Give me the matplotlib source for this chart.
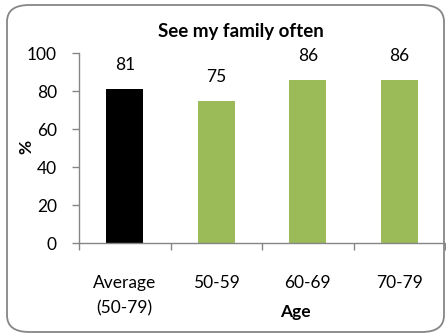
import matplotlib
matplotlib.use("Agg")
import matplotlib.pyplot as plt
from matplotlib.patches import FancyBboxPatch
import numpy as np

categories = ["Average\n(50-79)", "50-59", "60-69", "70-79"]
values = [81, 75, 86, 86]
colors = ["#000000", "#9BBB59", "#9BBB59", "#9BBB59"]
title = "See my family often"
yticks = [0, 20, 40, 60, 80, 100]

plt.rcParams['font.family'] = ['Lato', 'DejaVu Sans']
W, H = 446, 334
fig = plt.figure(figsize=(W/100, H/100), dpi=100)

frame = FancyBboxPatch((7/W, 2/H), (444-7)/W, (329-2)/H,
                       boxstyle="round,pad=0,rounding_size=0.05",
                       transform=fig.transFigure, facecolor="white",
                       edgecolor="#868686", linewidth=1.3, zorder=-10)
fig.patches.append(frame)

FS = 12.5
ax = fig.add_axes([79/W, 1-243/H, (445-79)/W, (243-53)/H])
ax.set_zorder(1)
ax.patch.set_alpha(0)
x = np.arange(len(categories))
bars = ax.bar(x, values, width=0.4, color=colors, zorder=2)
for xi, v in zip(x, values):
    ax.annotate(str(v), (xi, v), xytext=(0, 17), textcoords="offset points",
                ha="center", va="center", fontsize=FS)

ax.set_xlim(-0.5, len(categories)-0.5)
ax.set_ylim(0, 100)
ax.set_yticks(yticks)
ax.set_yticklabels([str(t) for t in yticks], fontsize=FS)
ax.set_xticks(x)
ax.set_xticklabels(categories, fontsize=FS, linespacing=1.75)
ax.set_xticks(np.arange(len(categories)+1)-0.5, minor=True)
ax.tick_params(axis='x', which='major', length=0, pad=23)
ax.tick_params(axis='x', which='minor', length=5, color="#868686", width=1)
ax.tick_params(axis='y', length=5, color="#868686", width=1, pad=11)
for s in ["top", "right"]:
    ax.spines[s].set_visible(False)
for s in ["left", "bottom"]:
    ax.spines[s].set_color("#868686")
    ax.spines[s].set_linewidth(1)

fig.text(241/W, 1-32/H, title, ha="center", va="center", fontsize=13.5, fontweight="bold")
fig.text(26/W, 1-147/H, "%", ha="center", va="center", fontsize=FS, fontweight="bold", rotation=90)
fig.text(295/W, 1-312/H, "Age", ha="center", va="center", fontsize=FS, fontweight="bold")

fig.savefig("out.png", dpi=100)
